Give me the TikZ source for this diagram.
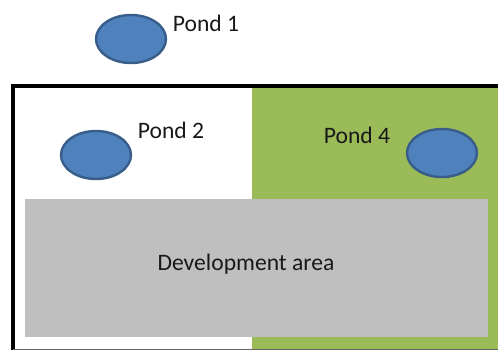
\documentclass[tikz,border=0pt]{standalone}
\usepackage{fontspec}
\setmainfont{Carlito}
\usetikzlibrary{shapes.geometric}

\definecolor{pondblue}{RGB}{79,129,189}
\definecolor{pondedge}{RGB}{56,93,138}
\definecolor{fieldgreen}{RGB}{155,187,89}
\definecolor{devgray}{RGB}{191,191,191}

\begin{document}
\begin{tikzpicture}[x=0.5pt, y=-0.5pt,
                    pondnode/.style={ellipse, draw=pondedge, fill=pondblue, line width=1.2pt, minimum width=35pt, minimum height=24pt, inner sep=0pt},
                    labelnode/.style={text=black!90, font=\fontsize{11.8}{14}\selectfont, inner sep=0pt},
                ]
                    \useasboundingbox (0,0) rectangle (498,349);

                    %Areas
                    \fill[fieldgreen] (252,87) rectangle (500,352);
                    \node[fill=devgray, minimum width=231.5pt, minimum height=69pt, inner sep=0pt, anchor=north west](dev) at (25,199) {};
                    \draw[line width=2.2pt] (13,352) -- (13,86) -- (502,86);
                    \draw[line width=1pt, black!60] (13,349.5) -- (500,349.5);

                    %Nodes
                    \node[pondnode](pond1) at (131,39) {};
                    \node[pondnode](pond2) at (96,155) {};
                    \node[pondnode](pond4) at (442,153) {};

                    %Labels
                    \node[labelnode](lbl1) at (206,23) {Pond 1};
                    \node[labelnode](lbl2) at (171,130) {Pond 2};
                    \node[labelnode](lbl4) at (357,135) {Pond 4};
                    \node[labelnode](lbldev) at (246,264) {Development area};
                \end{tikzpicture}
\end{document}
